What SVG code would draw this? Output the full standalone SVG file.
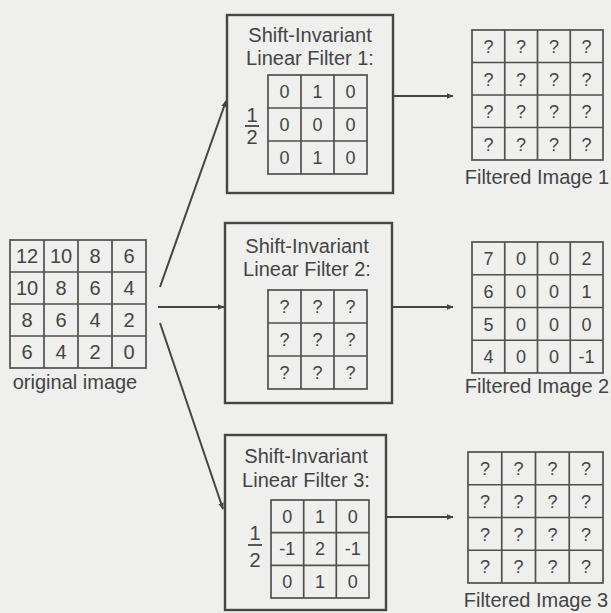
<svg xmlns="http://www.w3.org/2000/svg" width="611" height="613" viewBox="0 0 611 613">
<style>
.bg{fill:#efefed}
.box{fill:none;stroke:#454545;stroke-width:2.4}
.grid{fill:none;stroke:#505050;stroke-width:1.7}
.t{font-family:"Liberation Sans",Arial,sans-serif;fill:#444;text-anchor:middle}
.big{font-size:20px}
.cell{font-size:18px}
.frac{font-size:20px}
.lab{font-size:20px}
.conn{stroke:#444;stroke-width:2;fill:none}
</style>
<defs>
<marker id="ah" viewBox="0 0 10 10" refX="9" refY="5" markerWidth="7" markerHeight="7" markerUnits="userSpaceOnUse" orient="auto">
<path d="M0,1 L10,5 L0,9 z" fill="#444"/>
</marker>
</defs>
<rect class="bg" x="0" y="0" width="611" height="613"/>

<g id="original">
<rect class="grid" x="10" y="240" width="136" height="128"/>
<path class="grid" d="M44,240V368M78,240V368M112,240V368M10,272H146M10,304H146M10,336H146"/>
<g class="t big">
<text x="27" y="263">12</text><text x="61" y="263">10</text><text x="95" y="263">8</text><text x="129" y="263">6</text>
<text x="27" y="295">10</text><text x="61" y="295">8</text><text x="95" y="295">6</text><text x="129" y="295">4</text>
<text x="27" y="327">8</text><text x="61" y="327">6</text><text x="95" y="327">4</text><text x="129" y="327">2</text>
<text x="27" y="359">6</text><text x="61" y="359">4</text><text x="95" y="359">2</text><text x="129" y="359">0</text>
</g>
<text class="t lab" x="75" y="389">original image</text>
</g>

<g id="filter1">
<rect class="box" x="227" y="15" width="166" height="178"/>
<text class="t big" x="310" y="42">Shift-Invariant</text>
<text class="t big" x="310" y="65">Linear Filter 1:</text>
<rect class="grid" x="268" y="75" width="99" height="99"/>
<path class="grid" d="M301,75V174M334,75V174M268,108H367M268,141H367"/>
<g class="t cell">
<text x="284.5" y="98">0</text><text x="317.5" y="98">1</text><text x="350.5" y="98">0</text>
<text x="284.5" y="131">0</text><text x="317.5" y="131">0</text><text x="350.5" y="131">0</text>
<text x="284.5" y="164">0</text><text x="317.5" y="164">1</text><text x="350.5" y="164">0</text>
</g>
<text class="t frac" x="252" y="122">1</text>
<line x1="245" y1="126" x2="259" y2="126" stroke="#444" stroke-width="1.8"/>
<text class="t frac" x="252" y="144">2</text>
</g>

<g id="filter2">
<rect class="box" x="225" y="223" width="167" height="180"/>
<text class="t big" x="307" y="253">Shift-Invariant</text>
<text class="t big" x="307" y="276">Linear Filter 2:</text>
<rect class="grid" x="268" y="290" width="99" height="99"/>
<path class="grid" d="M301,290V389M334,290V389M268,323H367M268,356H367"/>
<g class="t cell">
<text x="284.5" y="313">?</text><text x="317.5" y="313">?</text><text x="350.5" y="313">?</text>
<text x="284.5" y="346">?</text><text x="317.5" y="346">?</text><text x="350.5" y="346">?</text>
<text x="284.5" y="379">?</text><text x="317.5" y="379">?</text><text x="350.5" y="379">?</text>
</g>
</g>

<g id="filter3">
<rect class="box" x="225" y="435" width="161" height="175"/>
<text class="t big" x="306" y="463">Shift-Invariant</text>
<text class="t big" x="306" y="487">Linear Filter 3:</text>
<rect class="grid" x="271" y="500" width="98" height="98"/>
<path class="grid" d="M303.7,500V598M336.3,500V598M271,532.7H369M271,565.3H369"/>
<g class="t cell">
<text x="287.3" y="522.5">0</text><text x="320" y="522.5">1</text><text x="352.7" y="522.5">0</text>
<text x="287.3" y="555">-1</text><text x="320" y="555">2</text><text x="352.7" y="555">-1</text>
<text x="287.3" y="588">0</text><text x="320" y="588">1</text><text x="352.7" y="588">0</text>
</g>
<text class="t frac" x="255" y="540">1</text>
<line x1="248" y1="545" x2="262" y2="545" stroke="#444" stroke-width="1.8"/>
<text class="t frac" x="255" y="567">2</text>
</g>

<g id="filtered1">
<rect class="grid" x="472" y="30" width="131" height="130"/>
<path class="grid" d="M504.75,30V160M537.5,30V160M570.25,30V160M472,62.5H603M472,95H603M472,127.5H603"/>
<g class="t cell">
<text x="488.4" y="53">?</text><text x="521.1" y="53">?</text><text x="553.9" y="53">?</text><text x="586.6" y="53">?</text>
<text x="488.4" y="85.5">?</text><text x="521.1" y="85.5">?</text><text x="553.9" y="85.5">?</text><text x="586.6" y="85.5">?</text>
<text x="488.4" y="118">?</text><text x="521.1" y="118">?</text><text x="553.9" y="118">?</text><text x="586.6" y="118">?</text>
<text x="488.4" y="150.5">?</text><text x="521.1" y="150.5">?</text><text x="553.9" y="150.5">?</text><text x="586.6" y="150.5">?</text>
</g>
<text class="t lab" x="537" y="184">Filtered Image 1</text>
</g>

<g id="filtered2">
<rect class="grid" x="472" y="242" width="131" height="131"/>
<path class="grid" d="M504.75,242V373M537.5,242V373M570.25,242V373M472,274.75H603M472,307.5H603M472,340.25H603"/>
<g class="t cell">
<text x="488.4" y="265">7</text><text x="521.1" y="265">0</text><text x="553.9" y="265">0</text><text x="586.6" y="265">2</text>
<text x="488.4" y="298">6</text><text x="521.1" y="298">0</text><text x="553.9" y="298">0</text><text x="586.6" y="298">1</text>
<text x="488.4" y="330.5">5</text><text x="521.1" y="330.5">0</text><text x="553.9" y="330.5">0</text><text x="586.6" y="330.5">0</text>
<text x="488.4" y="363">4</text><text x="521.1" y="363">0</text><text x="553.9" y="363">0</text><text x="586.6" y="363">-1</text>
</g>
<text class="t lab" x="537" y="393">Filtered Image 2</text>
</g>

<g id="filtered3">
<rect class="grid" x="468" y="452" width="135" height="131"/>
<path class="grid" d="M501.75,452V583M535.5,452V583M569.25,452V583M468,484.75H603M468,517.5H603M468,550.25H603"/>
<g class="t cell">
<text x="484.9" y="475">?</text><text x="518.6" y="475">?</text><text x="552.4" y="475">?</text><text x="586.1" y="475">?</text>
<text x="484.9" y="508">?</text><text x="518.6" y="508">?</text><text x="552.4" y="508">?</text><text x="586.1" y="508">?</text>
<text x="484.9" y="540.5">?</text><text x="518.6" y="540.5">?</text><text x="552.4" y="540.5">?</text><text x="586.1" y="540.5">?</text>
<text x="484.9" y="573">?</text><text x="518.6" y="573">?</text><text x="552.4" y="573">?</text><text x="586.1" y="573">?</text>
</g>
<text class="t lab" x="536" y="607">Filtered Image 3</text>
</g>

<g id="connectors">
<line class="conn" x1="160" y1="287" x2="226" y2="101" marker-end="url(#ah)"/>
<line class="conn" x1="158" y1="307" x2="224" y2="307" marker-end="url(#ah)"/>
<line class="conn" x1="160" y1="323" x2="223" y2="509" marker-end="url(#ah)"/>
<line class="conn" x1="393" y1="96" x2="453" y2="96" marker-end="url(#ah)"/>
<line class="conn" x1="392" y1="307" x2="453" y2="307" marker-end="url(#ah)"/>
<line class="conn" x1="386" y1="517" x2="453" y2="517" marker-end="url(#ah)"/>
</g>
</svg>
